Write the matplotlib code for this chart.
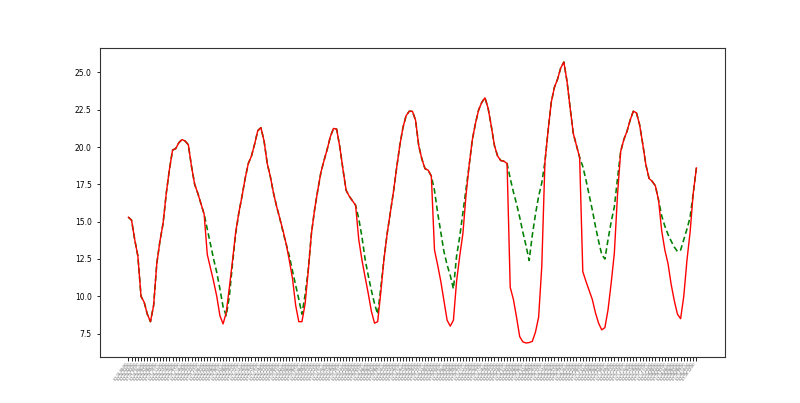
import numpy as np
import pandas as pd
import matplotlib
matplotlib.use("Agg")
import matplotlib.pyplot as plt

# hourly temperatures, measured (red) and filled/predicted (green dashed)
measured = [
    15.3, 15.1, 13.8, 12.7, 10.0, 9.6, 8.8, 8.3, 9.4, 12.2,
    13.7, 14.9, 16.9, 18.5, 19.8, 19.9, 20.3, 20.5, 20.4, 20.15,
    18.7, 17.5, 16.9, 16.2, 15.5, 12.8, 11.9, 11.0, 10.0, 8.7,
    8.15, 8.9, 10.6, 12.4, 14.3, 15.6, 16.7, 17.9, 18.9, 19.4,
    20.2, 21.1, 21.3, 20.4, 18.9, 18.0, 16.9, 16.0, 15.2, 14.4,
    13.5, 12.4, 11.2, 9.4, 8.3, 8.3, 9.5, 11.7, 14.2, 15.8,
    17.1, 18.3, 19.1, 19.85, 20.7, 21.25, 21.2, 20.0, 18.5, 17.1,
    16.7, 16.4, 16.1, 13.8, 12.45, 11.3, 10.2, 9.0, 8.2, 8.3,
    10.3, 12.5, 14.2, 15.6, 17.0, 18.6, 20.1, 21.3, 22.1, 22.4,
    22.4, 21.8, 20.1, 19.2, 18.55, 18.45, 18.05, 13.1, 12.1, 11.0,
    9.7, 8.4, 8.0, 8.4, 11.0, 12.7, 14.2, 16.8, 18.8, 20.5,
    21.6, 22.5, 23.0, 23.3, 22.6, 21.4, 20.1, 19.4, 19.1, 19.05,
    18.9, 10.6, 9.8, 8.6, 7.3, 6.95, 6.87, 6.9, 6.98, 7.6,
    8.6, 12.0, 19.0, 21.1, 23.0, 24.0, 24.55, 25.3, 25.7, 24.4,
    22.6, 20.9, 20.1, 19.3, 11.65, 11.0, 10.4, 9.8, 8.9, 8.2,
    7.75, 7.9, 9.1, 10.9, 12.9, 16.8, 19.7, 20.5, 21.05, 21.8,
    22.4, 22.3, 21.5, 20.2, 18.8, 17.9, 17.7, 17.4, 16.45, 14.4,
    13.1, 12.2, 10.8, 9.7, 8.8, 8.5, 10.0, 12.4, 14.3, 16.9,
    18.6,
]
filled = [
    15.3, 15.1, 13.8, 12.7, 10.0, 9.6, 8.8, 8.3, 9.4, 12.2,
    13.7, 14.9, 16.9, 18.5, 19.8, 19.9, 20.3, 20.5, 20.4, 20.15,
    18.7, 17.5, 16.9, 16.2, 15.5, 14.5, 13.5, 12.5, 11.6, 10.5,
    9.3, 8.7, 10.0, 12.2, 14.2, 15.6, 16.7, 17.9, 18.9, 19.4,
    20.2, 21.1, 21.3, 20.4, 18.9, 18.0, 16.9, 16.0, 15.2, 14.3,
    13.5, 12.7, 11.7, 10.75, 9.8, 8.8, 10.1, 11.8, 14.2, 15.8,
    17.1, 18.3, 19.1, 19.85, 20.7, 21.25, 21.2, 20.0, 18.5, 17.1,
    16.7, 16.4, 16.1, 15.2, 14.0, 12.5, 11.4, 10.4, 9.5, 8.8,
    10.6, 12.5, 14.2, 15.6, 17.0, 18.6, 20.1, 21.3, 22.1, 22.4,
    22.4, 21.8, 20.1, 19.2, 18.55, 18.45, 18.05, 17.1, 15.6, 14.3,
    13.0, 12.1, 11.4, 10.5, 12.7, 14.0, 15.6, 17.2, 18.8, 20.5,
    21.6, 22.5, 23.0, 23.3, 22.6, 21.4, 20.1, 19.4, 19.1, 19.05,
    18.9, 17.9, 17.0, 16.2, 15.3, 14.3, 13.4, 12.4, 14.1, 15.5,
    16.7, 17.6, 19.0, 21.1, 23.0, 24.0, 24.55, 25.3, 25.7, 24.4,
    22.6, 20.9, 20.1, 19.3, 18.7, 17.8, 16.8, 15.8, 14.7, 13.7,
    12.8, 12.5, 13.8, 15.0, 16.0, 17.9, 19.7, 20.5, 21.05, 21.8,
    22.4, 22.3, 21.5, 20.2, 18.8, 17.9, 17.7, 17.4, 16.45, 15.4,
    14.7, 14.15, 13.7, 13.3, 13.0, 13.1, 13.8, 14.5, 15.3, 16.9,
    18.6,
]
times = pd.date_range("2019-07-01 00:00", periods=len(measured), freq="h")
labels = [t.strftime("%m-%d %H:%M") for t in times]

fig, ax = plt.subplots(figsize=(8, 4.03), dpi=100)
fig.subplots_adjust(left=0.125, right=0.906, top=0.881, bottom=0.114)
ax.plot(labels, filled, color="g", ls=(0, (3.5, 2)), lw=1.15)
ax.plot(labels, measured, color="r", lw=1.0)

ax.tick_params(axis="y", labelsize=5.5, length=2.5, width=0.6)
ax.tick_params(axis="x", labelsize=2.4, length=3, width=0.6, labelrotation=55, pad=1,
               labelcolor="#555555")
for lbl in ax.get_xticklabels():
    lbl.set_ha("right")
for s in ax.spines.values():
    s.set_linewidth(0.8)
    s.set_color("#333333")

fig.savefig("out.png", dpi=100)
